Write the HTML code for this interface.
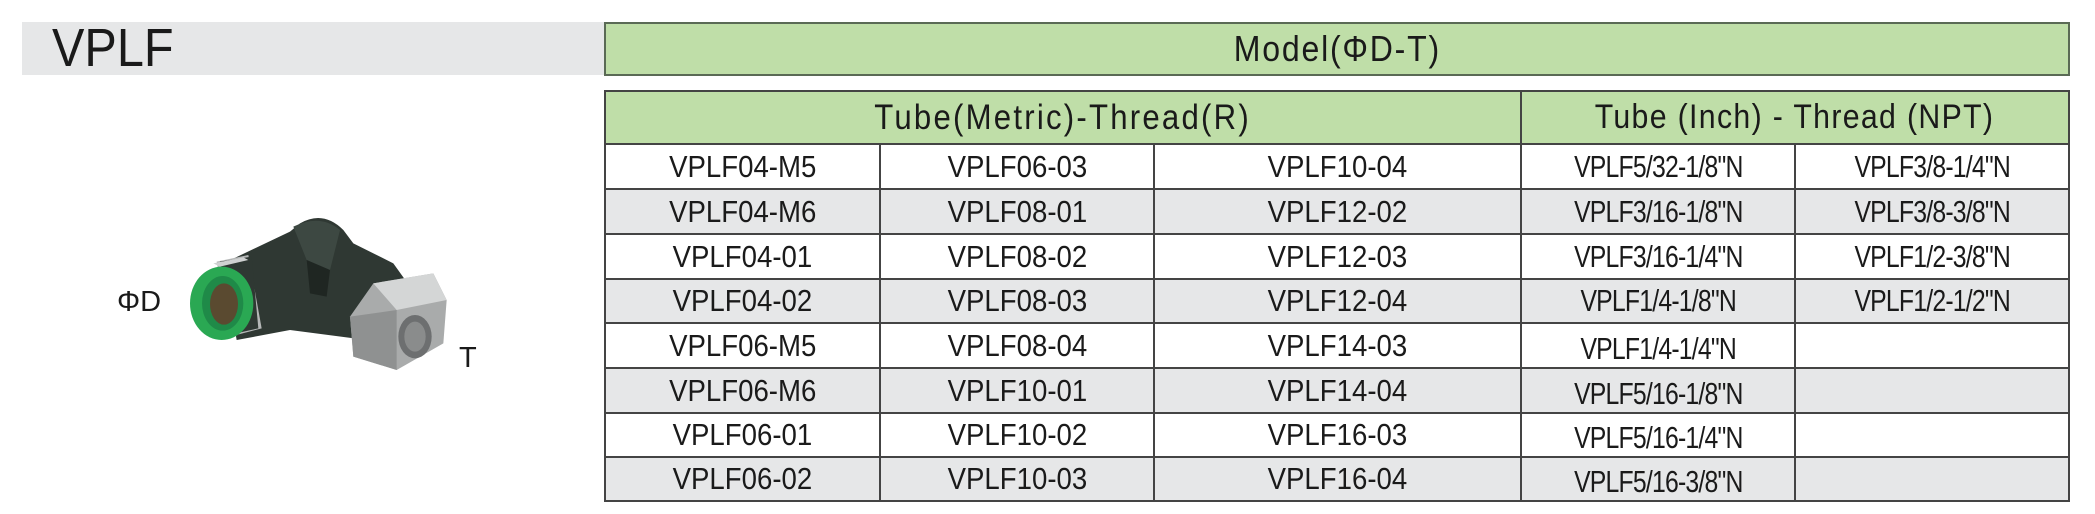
<!DOCTYPE html>
<html><head><meta charset="utf-8"><style>
body{margin:0;width:2095px;height:514px;background:#fff;position:relative;overflow:hidden;font-family:"Liberation Sans",sans-serif;color:#1a1a1a}
.a{position:absolute;box-sizing:border-box}
.c{position:absolute;box-sizing:border-box;display:flex;align-items:center;justify-content:center;font-size:31px;white-space:nowrap}
.c span{display:inline-block;transform:scaleX(.89)}
.i span{transform:scaleX(.8);letter-spacing:-1px}
</style></head><body>
<div class="a" style="left:22px;top:22px;width:582px;height:53px;background:#e6e7e8"></div>
<div class="a" style="left:52px;top:18px;font-size:54px;line-height:60px;transform:scaleX(.9);transform-origin:left">VPLF</div>
<div class="c" style="left:604px;top:22px;width:1466px;height:54px;background:#bfdea8;border:2px solid #5a6a55;font-size:36px;letter-spacing:2px"><span>Model(ΦD-T)</span></div>
<div class="a" style="left:604px;top:90px;width:1466px;height:412px;border:2px solid #444;background:#fff"></div>
<div class="c" style="left:606px;top:92px;width:914px;height:51px;background:#bfdea8;font-size:35px;letter-spacing:2.5px"><span>Tube(Metric)-Thread(R)</span></div>
<div class="c" style="left:1520px;top:92px;width:548px;height:51px;background:#bfdea8;font-size:34px;letter-spacing:1.5px;border-left:2px solid #444"><span>Tube (Inch) - Thread (NPT)</span></div>
<div id="rows"></div>
<div class="a" style="left:117px;top:286px;font-size:29px">ΦD</div>
<div class="a" style="left:459px;top:342px;font-size:29px">T</div>
<svg class="a" style="left:180px;top:200px" width="280" height="190" viewBox="0 0 840 570">
<path d="M130 190 L330 95 L360 70 Q430 30 490 90 L520 130 L640 190 L690 260 L560 420 L330 390 L170 420 Z" fill="#2f3833"/>
<path d="M340 80 Q420 40 480 90 L450 210 L380 180 Z" fill="#3d4842"/>
<path d="M380 180 L450 210 L440 290 L390 280 Z" fill="#1f2622"/>
<path d="M110 185 L205 165 L245 385 L150 410 Z" fill="#b5b7b7"/>
<path d="M120 185 L215 170 L235 385 L145 405 Z" fill="#2f3833"/>
<path d="M100 190 L190 172 L205 180 L120 200 Z" fill="#cfd1d1"/>
<polygon points="580,250 760,220 800,300 790,430 650,510 520,470 510,350" fill="#a9abab"/>
<polygon points="580,250 760,220 800,300 650,330" fill="#d4d6d6"/>
<polygon points="510,350 650,330 650,510 520,470" fill="#8f9191"/>
<ellipse cx="705" cy="410" rx="50" ry="65" fill="#6d6f70"/>
<ellipse cx="705" cy="410" rx="32" ry="45" fill="#8a8c8c"/>
<ellipse cx="125" cy="310" rx="95" ry="110" fill="#2aa853"/>
<ellipse cx="128" cy="310" rx="62" ry="82" fill="#1f8a48"/>
<ellipse cx="132" cy="312" rx="42" ry="62" fill="#5a4a30"/>
</svg>
<script>
var m=[["VPLF04-M5","VPLF06-03","VPLF10-04","VPLF5/32-1/8\"N","VPLF3/8-1/4\"N"],
["VPLF04-M6","VPLF08-01","VPLF12-02","VPLF3/16-1/8\"N","VPLF3/8-3/8\"N"],
["VPLF04-01","VPLF08-02","VPLF12-03","VPLF3/16-1/4\"N","VPLF1/2-3/8\"N"],
["VPLF04-02","VPLF08-03","VPLF12-04","VPLF1/4-1/8\"N","VPLF1/2-1/2\"N"],
["VPLF06-M5","VPLF08-04","VPLF14-03","VPLF1/4-1/4\"N",""],
["VPLF06-M6","VPLF10-01","VPLF14-04","VPLF5/16-1/8\"N",""],
["VPLF06-01","VPLF10-02","VPLF16-03","VPLF5/16-1/4\"N",""],
["VPLF06-02","VPLF10-03","VPLF16-04","VPLF5/16-3/8\"N",""]];
var ys=[143,188,233,278,322,367,412,456,500],xs=[606,879,1153,1520,1794,2068],h="";
for(var r=0;r<8;r++){for(var c=0;c<5;c++){
var bg=r%2?"#e6e7e8":"#fff";
h+='<div class="c'+(c>2?' i':'')+'" style="left:'+xs[c]+'px;top:'+ys[r]+'px;width:'+(xs[c+1]-xs[c])+'px;height:'+(ys[r+1]-ys[r])+'px;background:'+bg+';border-top:2px solid #444;'+(c>0?'border-left:2px solid #444;':'')+(c>2&&r>3?'padding-top:6px;':'')+'"><span>'+m[r][c].replace(/"/g,'&quot;')+'</span></div>';}}
document.getElementById('rows').innerHTML=h;
</script>
</body></html>
